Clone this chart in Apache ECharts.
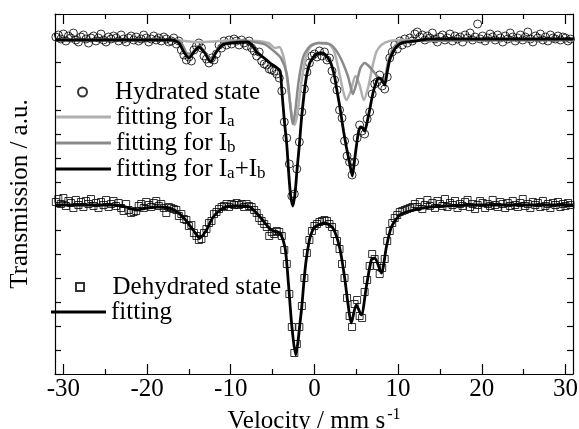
<!DOCTYPE html>
<html><head><meta charset="utf-8">
<script src="https://cdn.jsdelivr.net/npm/echarts@6/dist/echarts.min.js"></script>
<style>html,body{margin:0;padding:0;background:#fff}#c{width:579px;height:429px}</style>
</head><body><div id="c"></div>
<script>
// Velocity grid (mm/s) shared by both measured spectra
const velocity = [-30.9,-30.6,-30.3,-30.0,-29.7,-29.4,-29.1,-28.8,-28.5,-28.2,-27.9,-27.6,-27.3,-27.0,-26.7,-26.4,-26.1,-25.8,-25.5,-25.2,-24.9,-24.6,-24.3,-24.0,-23.7,-23.4,-23.1,-22.8,-22.5,-22.2,-21.9,-21.6,-21.3,-21.0,-20.7,-20.4,-20.1,-19.8,-19.5,-19.2,-18.9,-18.6,-18.3,-18.0,-17.7,-17.4,-17.1,-16.8,-16.5,-16.2,-15.9,-15.6,-15.3,-15.0,-14.7,-14.4,-14.1,-13.8,-13.5,-13.2,-12.9,-12.6,-12.3,-12.0,-11.7,-11.4,-11.1,-10.8,-10.5,-10.2,-9.9,-9.6,-9.3,-9.0,-8.7,-8.4,-8.1,-7.8,-7.5,-7.2,-6.9,-6.6,-6.3,-6.0,-5.7,-5.4,-5.1,-4.8,-4.5,-4.2,-3.9,-3.6,-3.3,-3.0,-2.7,-2.4,-2.1,-1.8,-1.5,-1.2,-0.9,-0.6,-0.3,0.0,0.3,0.6,0.9,1.2,1.5,1.8,2.1,2.4,2.7,3.0,3.3,3.6,3.9,4.2,4.5,4.8,5.1,5.4,5.7,6.0,6.3,6.6,6.9,7.2,7.5,7.8,8.1,8.4,8.7,9.0,9.3,9.6,9.9,10.2,10.5,10.8,11.1,11.4,11.7,12.0,12.3,12.6,12.9,13.2,13.5,13.8,14.1,14.4,14.7,15.0,15.3,15.6,15.9,16.2,16.5,16.8,17.1,17.4,17.7,18.0,18.3,18.6,18.9,19.2,19.5,19.8,20.1,20.4,20.7,21.0,21.3,21.6,21.9,22.2,22.5,22.8,23.1,23.4,23.7,24.0,24.3,24.6,24.9,25.2,25.5,25.8,26.1,26.4,26.7,27.0,27.3,27.6,27.9,28.2,28.5,28.8,29.1,29.4,29.7,30.0,30.3,30.6];

// Hydrated state transmission (a.u.)
const hydrated = [337,339,335,340,333,338,336,341,334,332,337,339,335,331,336,338,333,336,340,334,332,337,335,338,336,333,339,335,332,336,338,334,337,333,335,339,336,332,335,338,334,336,333,337,335,332,
333,336,330,333,324,319,314,317,313,324,328,331,326,318,315,311,316,314,320,329,326,333,329,334,330,335,333,329,334,331,328,333,326,323,318,322,313,310,309,305,304,303,300,296,283,252,236,210,178,180,205,232,262,285,302,311,318,
320,317,323,318,322,314,316,303,294,284,264,256,233,218,212,199,212,236,249,243,240,255,262,280,290,292,299,288,285,297,316,322,329,325,333,329,335,331,336,333,
340,342,337,339,334,338,336,341,335,332,337,339,334,336,340,333,338,335,337,332,339,336,341,334,337,350,335,338,333,336,340,337,334,339,336,332,338,335,341,337,333,336,339,334,337,342,335,332,338,336,340,334,337,333,339,336,335,338,334,337,336,333,335];

// Dehydrated state transmission (a.u.)
const dehydrated = [172,175,170,176,168,173,171,166,174,169,172,167,173,170,175,168,171,166,172,169,174,167,170,173,168,171,166,163,170,164,161,162,163,168,170,166,172,169,167,171,173,168,170,166,161,167,
166,165,164,158,160,155,154,148,149,141,138,134,135,141,145,151,153,160,162,165,167,168,170,167,170,169,171,169,170,167,170,168,167,164,161,156,153,150,147,138,142,140,143,142,138,124,110,80,47,21,30,47,68,96,121,134,143,
148,150,152,153,154,153,150,147,140,133,125,110,96,76,58,47,70,74,58,56,82,94,108,120,115,108,100,106,115,133,143,151,156,159,162,163,164,165,166,167,
170,167,172,165,169,174,168,171,166,173,170,168,175,167,171,169,173,166,170,168,172,174,167,170,165,169,173,171,166,170,168,174,169,167,172,170,166,171,168,173,169,167,171,175,168,170,166,172,169,171,167,173,168,170,166,171,169,172,167,170,168,171,169];

// Fitted curves
const fitHydV = [-31,-17,-16.2,-15.6,-15.0,-14.4,-13.8,-13.1,-12.4,-11.8,-11.0,-10.0,-8.0,-7.5,-6.9,-6.0,-5.3,-4.6,-4.1,-3.9,-3.6,-3.3,-3.1,-2.85,-2.56,-2.3,-2.08,-1.8,-1.56,-1.25,-0.96,-0.6,-0.36,0.0,0.63,1.2,1.62,2.0,2.42,2.62,3.0,3.22,3.5,3.82,4.2,4.53,4.8,5.0,5.25,5.49,5.75,6.0,6.3,6.6,7.0,7.4,7.7,8.0,8.39,8.7,8.99,9.4,9.78,10.4,11.0,12,13.8,31];
const fitHydY = [334,334,331,322,316,322,327,321,312,321,329,331,332,329,322,316,311,307,303,284,254,229,204,179,168,182,204,229,254,279,297,310,314,318,321,320,316,310,297,287,269,257,242,227,211,198,214,227,241,247,246,243,252,264,281,292,296,295,289,302,314,322,327,331,332,333,335,335];
const fitIaV = [-31,-17,-14,-12,-10,-7,-5.5,-4.7,-4.2,-3.6,-3.1,-2.7,-2.35,-2.0,-1.6,-1.1,-0.5,0.4,1.5,2.3,2.9,3.4,3.8,4.3,4.9,5.4,5.9,6.4,6.9,7.4,8.0,9,11,31];
const fitIaY = [334,334,332,332.5,333.5,333,331,326,327,314,284,259,249,262,289,314,327,331,331,324,304,284,274,282,298,289,274,286,306,322,329,333,334,334];
const fitIbV = [-31,-17,-16,-15.0,-14.4,-13.8,-13.1,-12.4,-11.7,-11,-9,-6,-5,-4,-3.3,-2.9,-2.6,-2.3,-1.9,-1.3,-0.5,0.5,2,3,4.0,4.6,5.0,5.5,6.0,6.5,7.2,7.8,8.3,8.8,9.3,10,11,31];
const fitIbY = [334,334,332,318,323,328,322,315,323,330,333,330,324,316,300,270,250,262,292,318,328,331,329,318,298,280,290,306,311,308,301,295,293,312,324,331,333,334];
const fitDehV = [-31,-24,-22.5,-21.3,-20,-18.5,-17,-15.7,-14.5,-13.7,-12.9,-12.1,-10.9,-9.7,-8.9,-7.7,-6.5,-5.3,-4.6,-4.1,-3.5,-3.1,-2.7,-2.24,-2.0,-1.76,-1.5,-1.28,-1.0,-0.6,-0.3,0.03,1.22,2.2,3.0,3.6,4.0,4.4,5.0,5.6,6.2,6.8,7.2,8.0,8.6,9.2,10.2,11.4,13.8,20,31];
const fitDehY = [169,169,167,164,166,167,165,157,144,136,144,157,166,168,168,167,157,145,142,141,126,90,48,19,30,48,68,90,113,134,142,147,151,146,127,97,71,51,69,59,87,114,116,101,127,147,159,163,167,169,169];

const majorTicks = [-30,-20,-10,0,10,20,30];
const minorTicks = [-25,-15,-5,5,15,25];

const zip = (xs, ys) => xs.map((x, i) => [x, ys[i]]);
const FONT = "'Liberation Serif','Times New Roman',serif";
const legendNames = {
  'fitting for Ia': 'fitting for I{sub|a}',
  'fitting for Ib': 'fitting for I{sub|b}',
  'fitting for Ia+Ib': 'fitting for I{sub|a}+I{sub|b}'
};
const legendText = {
  fontFamily: FONT, fontSize: 25, color: '#000', lineHeight: 26,
  rich: { sub: { fontFamily: FONT, fontSize: 17, color: '#000', verticalAlign: 'bottom', lineHeight: 26, padding: [8, 0, 0, 0] } }
};
const legendBase = {
  orient: 'vertical', itemGap: 0, itemWidth: 55, selectedMode: false, padding: 0,
  formatter: n => legendNames[n] || n, textStyle: legendText
};
const xBase = { type: 'value', min: -31, max: 30.9, gridIndex: 0, splitLine: { show: false } };
const AX = { color: '#000', width: 1.2 };
const SQUARE = 'path://M0,0 L10,0 L10,10 L0,10 Z';

const chart = echarts.init(document.getElementById('c'));
chart.setOption({
  animation: false,
  backgroundColor: '#fff',
  grid: { left: 55, right: 6, top: 14, bottom: 55, containLabel: false, outerBoundsMode: 'none' },
  xAxis: [
    Object.assign({}, xBase, {
      position: 'bottom',
      axisLine: { show: true, onZero: false, lineStyle: AX },
      axisTick: { show: true, inside: true, length: 10, customValues: majorTicks, lineStyle: AX },
      axisLabel: { show: true, customValues: majorTicks, margin: 3, fontFamily: FONT, fontSize: 25, color: '#000' },
      name: 'Velocity / mm s{sup|-1}', nameLocation: 'middle', nameGap: 27,
      nameTextStyle: { fontFamily: FONT, fontSize: 25, color: '#000', lineHeight: 30,
        rich: { sup: { fontFamily: FONT, fontSize: 16, color: '#000', verticalAlign: 'top', lineHeight: 16, padding: [0, 0, 19, 2] } } }
    }),
    Object.assign({}, xBase, {
      position: 'bottom',
      axisLine: { show: false, onZero: false },
      axisTick: { show: true, inside: true, length: 5, customValues: minorTicks, lineStyle: AX },
      axisLabel: { show: false }
    }),
    Object.assign({}, xBase, {
      position: 'top',
      axisLine: { show: true, onZero: false, lineStyle: AX },
      axisTick: { show: true, inside: true, length: 10, customValues: majorTicks, lineStyle: AX },
      axisLabel: { show: false }
    }),
    Object.assign({}, xBase, {
      position: 'top',
      axisLine: { show: false, onZero: false },
      axisTick: { show: true, inside: true, length: 5, customValues: minorTicks, lineStyle: AX },
      axisLabel: { show: false }
    })
  ],
  yAxis: [
    {
      type: 'value', min: 0, max: 360, interval: 24, position: 'left',
      axisLine: { show: true, onZero: false, lineStyle: AX },
      axisTick: { show: true, inside: true, length: 6, lineStyle: AX },
      axisLabel: { show: false }, splitLine: { show: false },
      name: 'Transmission / a.u.', nameLocation: 'middle', nameGap: 22,
      nameTextStyle: { fontFamily: FONT, fontSize: 25, color: '#000' }
    },
    {
      type: 'value', min: 0, max: 360, interval: 24, position: 'right',
      axisLine: { show: true, onZero: false, lineStyle: AX },
      axisTick: { show: true, inside: true, length: 6, lineStyle: AX },
      axisLabel: { show: false }, splitLine: { show: false }
    }
  ],
  legend: [
    Object.assign({}, legendBase, { data: ['Hydrated state'], left: 77, top: 79, itemHeight: 9 }),
    Object.assign({}, legendBase, { data: ['fitting for Ia', 'fitting for Ib', 'fitting for Ia+Ib'], left: 56, top: 104, itemHeight: 3, icon: 'rect' }),
    Object.assign({}, legendBase, { data: ['Dehydrated state'], left: 75, top: 274, itemHeight: 8, symbolKeepAspect: true }),
    Object.assign({}, legendBase, { data: ['fitting'], left: 51, top: 299, itemHeight: 3, icon: 'rect' })
  ],
  series: [
    {
      name: 'Hydrated state', type: 'scatter', data: zip(velocity, hydrated),
      symbol: 'circle', symbolSize: 8,
      itemStyle: { color: 'rgba(0,0,0,0)', borderColor: '#000', borderWidth: 1 }, z: 2
    },
    {
      name: 'Dehydrated state', type: 'scatter', data: zip(velocity, dehydrated),
      symbol: SQUARE, symbolSize: 7, symbolKeepAspect: true,
      itemStyle: { color: 'rgba(0,0,0,0)', borderColor: '#000', borderWidth: 1 }, z: 2
    },
    {
      name: 'fitting for Ia', type: 'line', data: zip(fitIaV, fitIaY), smooth: 0.25,
      symbol: 'none', lineStyle: { color: '#b0b0b0', width: 2.5 }, itemStyle: { color: '#b0b0b0' }, z: 3
    },
    {
      name: 'fitting for Ib', type: 'line', data: zip(fitIbV, fitIbY), smooth: 0.25,
      symbol: 'none', lineStyle: { color: '#8a8a8a', width: 2.5 }, itemStyle: { color: '#8a8a8a' }, z: 4
    },
    {
      name: 'fitting for Ia+Ib', type: 'line', data: zip(fitHydV, fitHydY), smooth: 0.25,
      symbol: 'none', lineStyle: { color: '#000', width: 2.8 }, itemStyle: { color: '#000' }, z: 5
    },
    {
      name: 'fitting', type: 'line', data: zip(fitDehV, fitDehY), smooth: 0.25,
      symbol: 'none', lineStyle: { color: '#000', width: 2.8 }, itemStyle: { color: '#000' }, z: 5
    }
  ]
});
</script>
</body></html>
